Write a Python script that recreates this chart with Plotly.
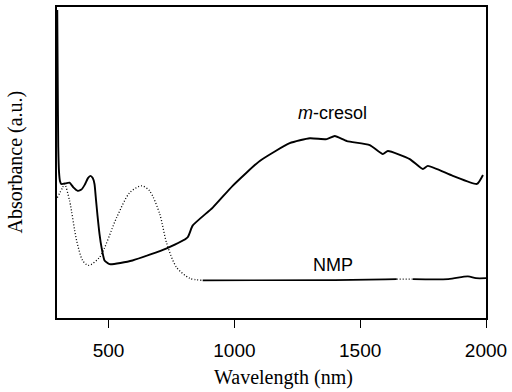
import numpy as np
import plotly.graph_objects as go

# m-cresol spectrum (solid)
mcresol_wl = [296, 298, 300, 303, 307, 312, 330, 345, 360, 377, 392, 405, 418, 428, 437, 444,
              450, 456, 464, 472, 484, 504, 595, 731, 814, 834, 914, 993, 1101, 1220, 1300,
              1367, 1399, 1447, 1538, 1590, 1610, 1697, 1749, 1769, 1868, 1964, 1988]
mcresol_abs = [0.99, 0.75, 0.55, 0.47, 0.44, 0.431, 0.433, 0.435, 0.42, 0.409, 0.413, 0.428,
               0.450, 0.457, 0.45, 0.431, 0.38, 0.329, 0.27, 0.227, 0.185, 0.173, 0.185, 0.224,
               0.259, 0.297, 0.355, 0.425, 0.505, 0.562, 0.578, 0.575, 0.585, 0.569, 0.556,
               0.527, 0.537, 0.511, 0.479, 0.489, 0.457, 0.431, 0.460]

# NMP spectrum (dotted at short wavelengths)
nmp_wl = [296, 317, 325, 345, 373, 397, 420, 464, 532, 584, 631, 663, 703, 731, 770, 822,
          874, 1000, 1200, 1400, 1600, 1645, 1710, 1850, 1928, 1960, 2000]
nmp_abs = [0.387, 0.419, 0.431, 0.377, 0.249, 0.185, 0.169, 0.195, 0.323, 0.403, 0.425,
           0.409, 0.335, 0.240, 0.163, 0.128, 0.121, 0.121, 0.122, 0.122, 0.124, 0.125,
           0.125, 0.125, 0.134, 0.128, 0.128]

x_ticks = [500, 1000, 1500, 2000]

nw = np.array(nmp_wl)
na = np.array(nmp_abs)

fig = go.Figure()
fig.add_trace(go.Scatter(x=mcresol_wl, y=mcresol_abs, mode="lines",
                         line=dict(color="black", width=1.9, shape="spline", smoothing=0.5),
                         showlegend=False))
m1 = nw <= 874
m2 = (nw >= 874) & (nw <= 1645)
m3 = (nw >= 1645) & (nw <= 1710)
m4 = nw >= 1710
fig.add_trace(go.Scatter(x=nw[m1], y=na[m1], mode="lines",
                         line=dict(color="black", width=1.3, dash="1px,2px", shape="spline",
                                   smoothing=0.8), showlegend=False))
fig.add_trace(go.Scatter(x=nw[m2], y=na[m2], mode="lines",
                         line=dict(color="black", width=1.7), showlegend=False))
fig.add_trace(go.Scatter(x=nw[m3], y=na[m3], mode="lines",
                         line=dict(color="black", width=1.3, dash="1px,2px"), showlegend=False))
fig.add_trace(go.Scatter(x=nw[m4], y=na[m4], mode="lines",
                         line=dict(color="black", width=1.7, shape="spline", smoothing=0.8),
                         showlegend=False))

fig.add_annotation(x=1390, y=(318 - 112) / 313, text="<i>m</i>-cresol", showarrow=False,
                   font=dict(family="Liberation Sans, Arial", size=18, color="black"))
fig.add_annotation(x=1390, y=(318 - 265) / 313, text="NMP", showarrow=False,
                   font=dict(family="Liberation Sans, Arial", size=18, color="black"))

fig.add_annotation(xref="paper", yref="paper", x=(283 - 57) / 429, y=-(378 - 318) / 313,
                   xanchor="center", yanchor="middle",
                   text="Wavelength (nm)", showarrow=False,
                   font=dict(family="Liberation Serif, Times New Roman", size=20, color="black"))
fig.add_annotation(xref="paper", yref="paper", x=-(57 - 15) / 429, y=0.5, textangle=-90,
                   xanchor="center", yanchor="middle",
                   text="Absorbance (a.u.)", showarrow=False,
                   font=dict(family="Liberation Serif, Times New Roman", size=20, color="black"))

fig.update_xaxes(range=[295, 2000], tickvals=x_ticks, ticks="outside", ticklen=8,
                 tickwidth=1.4, tickcolor="black", showline=True, linecolor="black",
                 linewidth=1.6, mirror=True, showgrid=False, zeroline=False,
                 ticklabelstandoff=6,
                 tickfont=dict(family="Liberation Sans, Arial", size=19, color="black"))
fig.update_yaxes(range=[0, 1], showticklabels=False, ticks="", showline=True,
                 linecolor="black", linewidth=1.6, mirror=True, showgrid=False, zeroline=False)

fig.update_layout(width=512, height=392, margin=dict(l=57, r=26, t=5, b=74),
                  paper_bgcolor="white", plot_bgcolor="white")
fig.write_html("out.html")
